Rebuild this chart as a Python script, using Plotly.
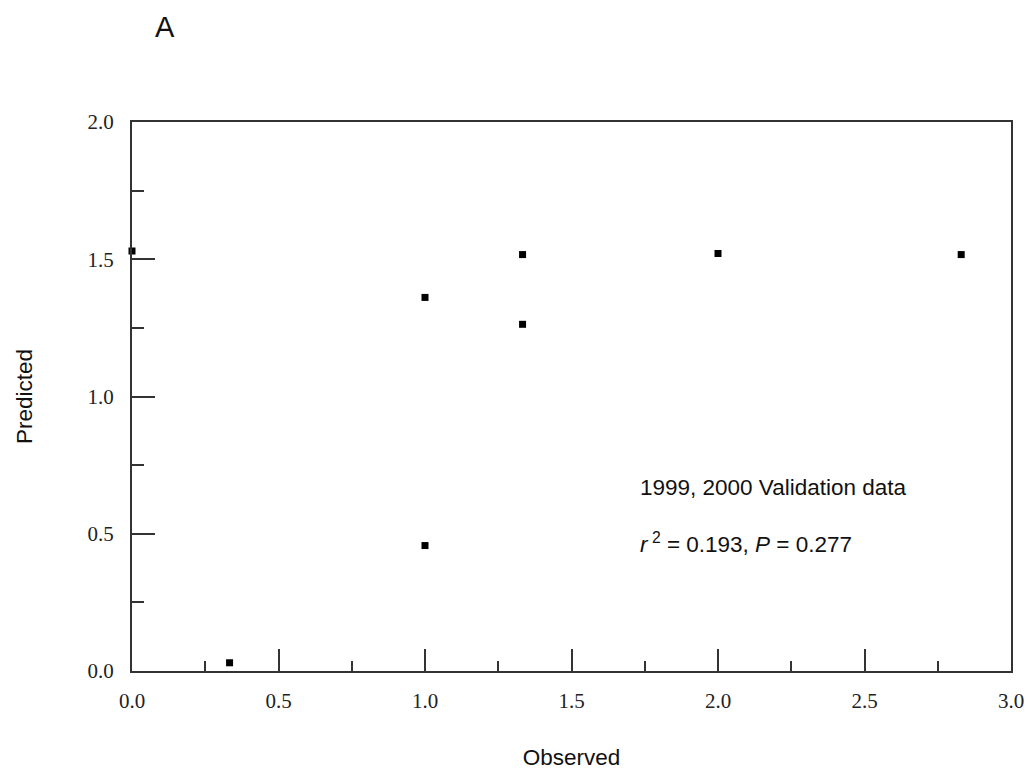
import plotly.graph_objects as go

observed = [0.0, 0.333, 1.0, 1.0, 1.333, 1.333, 2.0, 2.83]
predicted = [1.53, 0.03, 0.457, 1.361, 1.517, 1.263, 1.521, 1.517]

x_ticks = [0.0, 0.5, 1.0, 1.5, 2.0, 2.5, 3.0]
x_tick_labels = ["0.0", "0.5", "1.0", "1.5", "2.0", "2.5", "3.0"]
y_ticks = [0.0, 0.5, 1.0, 1.5, 2.0]
y_tick_labels = ["0.0", "0.5", "1.0", "1.5", "2.0"]

fig = go.Figure()
fig.add_trace(go.Scatter(
    x=observed, y=predicted, mode="markers",
    marker=dict(symbol="square", size=7, color="black"),
    cliponaxis=False, showlegend=False,
))

tick_font = dict(family="Liberation Serif, Times New Roman, serif", size=21, color="#222")
title_font = dict(family="Liberation Sans, Arial, sans-serif", size=22.5, color="#111")

fig.update_xaxes(
    range=[0, 3], tickvals=x_ticks, ticktext=x_tick_labels,
    ticks="inside", ticklen=22, tickwidth=2, tickcolor="#333",
    minor=dict(ticks="inside", ticklen=10, tickwidth=2, tickcolor="#333", dtick=0.25, showgrid=False),
    showline=True, linewidth=2, linecolor="#333", mirror=True, automargin=False,
    showgrid=False, zeroline=False, tickfont=tick_font, ticklabelstandoff=10,
    title=dict(text="Observed", font=title_font, standoff=40),
)
fig.update_yaxes(
    range=[0, 2], tickvals=y_ticks, ticktext=y_tick_labels,
    ticks="inside", ticklen=23, tickwidth=2, tickcolor="#333",
    minor=dict(ticks="inside", ticklen=12, tickwidth=2, tickcolor="#333", dtick=0.25, showgrid=False),
    showline=True, linewidth=2, linecolor="#333", mirror=True, automargin=False,
    showgrid=False, zeroline=False, tickfont=tick_font, ticklabelstandoff=12,
    title=dict(text="Predicted", font=title_font, standoff=49),
)

fig.add_annotation(x=1.728, y=0.668, xref="x", yref="y", xanchor="left", yanchor="middle",
                   text="1999, 2000 Validation data", showarrow=False, font=title_font)
fig.add_annotation(x=1.728, y=0.465, xref="x", yref="y", xanchor="left", yanchor="middle",
                   text="<i>r</i><sup> 2</sup> = 0.193, <i>P</i> = 0.277", showarrow=False, font=title_font)

W, H = 1028, 770
ml, mr, mt, mb = 132, 17, 122, 99
fig.update_layout(
    width=W, height=H,
    margin=dict(l=ml, r=mr, t=mt, b=mb, autoexpand=False),
    plot_bgcolor="white", paper_bgcolor="white",
)
pw, ph = W - ml - mr, H - mt - mb
fig.add_annotation(x=(165 - ml) / pw, y=(H - mb - 27) / ph, xref="paper", yref="paper",
                   xanchor="center", yanchor="middle", showarrow=False, text="A",
                   font=dict(family="Liberation Sans, Arial, sans-serif", size=29, color="#111"))

fig.write_html("out.html", config={"displayModeBar": False},
               post_script="document.body.style.margin='0';document.body.style.overflow='hidden';")
